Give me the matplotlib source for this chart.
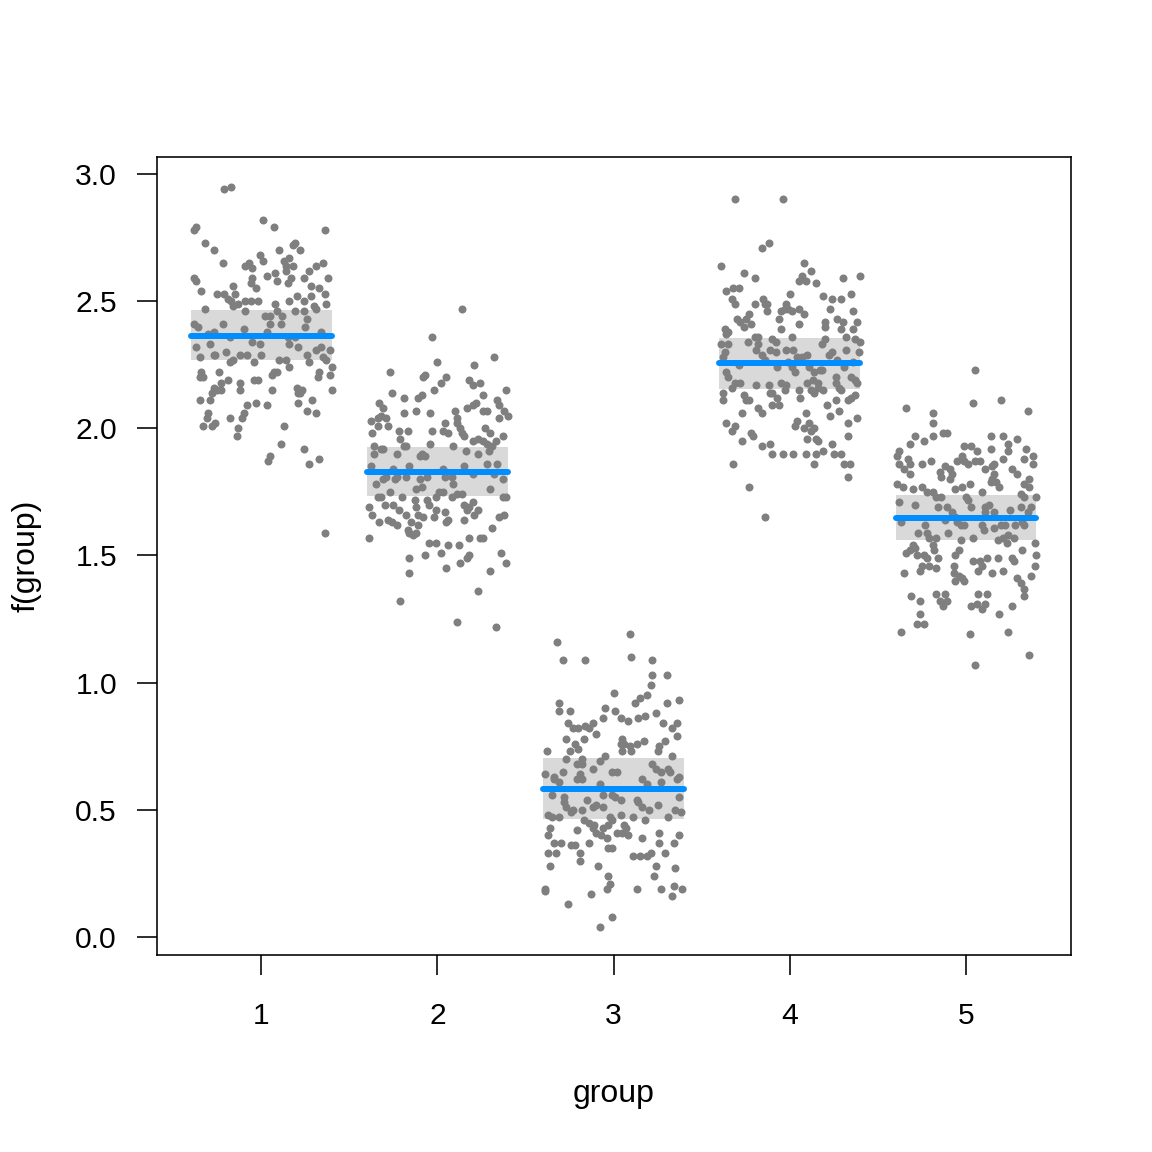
import matplotlib
matplotlib.use("Agg")
import matplotlib.pyplot as plt

plt.rcParams['font.family'] = ['Liberation Sans', 'DejaVu Sans']

groups = [1, 2, 3, 4, 5]
fit = [2.365, 1.830, 0.582, 2.256, 1.647]
fit_lo = [2.267, 1.735, 0.464, 2.153, 1.559]
fit_hi = [2.467, 1.925, 0.704, 2.354, 1.738]

# partial residuals: (jitter offset, value) per group
g1_dx = [-0.21,-0.17,0.01,0.07,-0.38,-0.37,0.36,-0.32,-0.27,0.19,0.18,0.10,0.22,-0.01,0.01,-0.22,0.13,0.16,0.14,0.18,
         -0.09,-0.07,-0.05,0.31,0.35,0.27,0.14,0.03,0.08,-0.38,-0.37,-0.05,-0.06,0.09,0.15,0.17,0.24,0.38,-0.16,0.28,
         0.33,-0.03,-0.34,-0.25,-0.21,-0.19,-0.15,0.36,-0.09,-0.06,-0.02,-0.17,-0.16,-0.13,0.16,0.20,0.24,0.28,0.30,0.31,
         0.08,0.37,-0.32,-0.09,0.19,0.24,0.02,0.05,0.09,0.12,0.26,-0.38,-0.36,-0.22,0.05,0.11,0.25,-0.10,-0.27,-0.30,
         0.34,0.03,-0.18,0.15,0.19,-0.05,-0.01,-0.37,-0.29,0.16,0.21,0.31,0.34,0.39,-0.27,-0.26,-0.20,-0.12,-0.08,-0.35,
         0.00,0.10,0.14,0.26,-0.16,0.35,0.37,0.16,0.40,0.27,-0.04,-0.18,
         -0.34,-0.35,-0.33,-0.24,-0.19,-0.23,-0.27,-0.28,-0.25,-0.23,-0.12,-0.12,-0.04,-0.02,0.07,0.06,0.09,0.06,0.20,0.21,
         0.22,0.23,0.33,0.32,0.39,0.40,-0.35,-0.29,-0.03,-0.08,0.03,0.21,0.29,0.26,0.31,-0.30,-0.31,-0.18,-0.10,-0.11,
         -0.33,-0.28,-0.26,-0.13,-0.14,0.13,0.11,0.24,0.05,0.04,0.33,0.27,0.36]
g1_y = [2.94,2.95,2.82,2.79,2.78,2.79,2.78,2.73,2.70,2.73,2.72,2.70,2.70,2.68,2.66,2.65,2.66,2.67,2.64,2.64,
        2.64,2.65,2.63,2.64,2.65,2.62,2.62,2.60,2.61,2.59,2.58,2.59,2.57,2.58,2.57,2.59,2.59,2.59,2.56,2.56,
        2.55,2.55,2.54,2.53,2.53,2.51,2.53,2.53,2.50,2.50,2.50,2.50,2.48,2.49,2.50,2.52,2.50,2.52,2.48,2.47,
        2.49,2.49,2.47,2.46,2.46,2.46,2.44,2.44,2.46,2.44,2.43,2.41,2.40,2.41,2.41,2.41,2.40,2.39,2.38,2.37,
        2.38,2.38,2.36,2.36,2.36,2.34,2.33,2.32,2.33,2.33,2.32,2.31,2.32,2.31,2.29,2.29,2.30,2.29,2.29,2.28,
        2.29,2.27,2.27,2.29,2.27,2.28,2.27,2.24,2.24,2.26,2.26,2.26,
        2.22,2.20,2.20,2.22,2.19,2.18,2.16,2.14,2.15,2.15,2.18,2.15,2.19,2.19,2.22,2.21,2.22,2.15,2.16,2.14,
        2.14,2.15,2.22,2.20,2.21,2.15,2.11,2.11,2.10,2.09,2.09,2.10,2.11,2.07,2.06,2.06,2.04,2.04,2.06,2.04,
        2.01,2.01,2.02,2.00,1.97,2.01,1.94,1.92,1.89,1.87,1.88,1.86,1.59]

g2_dx = [0.14,-0.03,0.00,0.32,-0.27,0.21,-0.07,-0.08,0.05,0.02,0.18,0.20,0.24,-0.26,-0.19,-0.11,-0.09,-0.02,0.39,0.26,
         -0.33,-0.31,-0.12,-0.04,-0.19,0.10,0.17,0.20,0.22,0.26,0.28,0.34,0.35,-0.34,-0.32,-0.29,-0.38,0.11,0.11,0.13,
         0.14,0.15,0.38,0.40,0.35,-0.34,-0.28,-0.37,0.04,0.03,0.06,-0.03,-0.22,-0.17,0.27,0.30,0.37,-0.21,-0.19,-0.18,
         -0.04,0.09,0.20,0.23,0.26,0.28,0.33,0.31,0.29,-0.36,-0.32,-0.31,-0.36,-0.23,-0.09,-0.07,-0.10,0.16,0.23,-0.38,
         -0.16,-0.25,0.28,0.34,0.03,0.15,
         -0.31,-0.29,-0.24,-0.23,-0.18,-0.10,-0.06,0.04,0.08,0.20,0.32,0.37,-0.35,-0.27,-0.12,-0.09,0.09,0.30,
         -0.34,-0.32,-0.20,-0.13,-0.06,-0.01,0.01,0.03,0.08,0.11,0.14,0.37,0.39,
         -0.39,-0.37,-0.30,-0.25,-0.22,-0.18,-0.12,-0.11,-0.08,-0.05,-0.01,-0.02,0.04,0.06,0.05,0.15,0.17,0.18,0.20,0.23,
         0.21,0.15,0.35,0.38,-0.33,-0.28,-0.26,-0.23,-0.15,-0.11,-0.17,-0.16,-0.14,-0.12,-0.39,0.31,0.18,0.24,0.26,-0.05,
         -0.01,0.06,0.12,-0.07,0.02,0.17,0.18,0.36,-0.16,0.13,0.05,0.39,-0.16,0.30,0.23,-0.21,0.11,0.33]
g2_y = [2.47,2.36,2.26,2.28,2.22,2.25,2.21,2.20,2.20,2.18,2.19,2.17,2.18,2.14,2.12,2.12,2.13,2.15,2.15,2.13,
        2.10,2.08,2.07,2.06,2.06,2.07,2.08,2.09,2.10,2.07,2.07,2.11,2.09,2.04,2.05,2.04,2.03,2.04,2.02,2.00,
        1.98,1.97,2.07,2.05,2.04,2.01,2.01,1.98,2.02,1.99,1.98,1.99,1.99,1.99,2.00,1.98,1.97,1.96,1.93,1.93,
        1.94,1.93,1.95,1.96,1.95,1.94,1.95,1.93,1.91,1.93,1.92,1.92,1.90,1.90,1.90,1.89,1.89,1.91,1.90,1.85,
        1.85,1.84,1.86,1.86,1.84,1.85,
        1.80,1.81,1.80,1.81,1.81,1.80,1.81,1.81,1.81,1.82,1.82,1.80,1.78,1.75,1.76,1.77,1.78,1.76,
        1.73,1.73,1.73,1.72,1.72,1.73,1.75,1.75,1.73,1.74,1.74,1.73,1.73,
        1.69,1.66,1.70,1.70,1.68,1.66,1.69,1.66,1.65,1.70,1.68,1.65,1.67,1.64,1.63,1.70,1.68,1.69,1.71,1.68,
        1.66,1.64,1.65,1.66,1.63,1.64,1.63,1.62,1.63,1.62,1.60,1.59,1.58,1.59,1.57,1.61,1.57,1.57,1.57,1.55,
        1.55,1.54,1.54,1.50,1.51,1.49,1.50,1.51,1.49,1.47,1.45,1.47,1.43,1.44,1.36,1.32,1.24,1.22]

g3_dx = [0.09,-0.32,-0.29,-0.16,0.10,0.22,0.22,0.30,0.21,0.00,0.12,0.15,0.19,0.30,0.37,-0.31,-0.31,-0.25,-0.05,0.01,
         0.04,0.08,0.14,0.18,0.24,-0.06,-0.26,-0.23,-0.20,-0.16,-0.14,-0.12,-0.10,0.28,0.33,0.36,0.36,-0.27,-0.17,-0.22,
         -0.20,-0.25,0.05,0.06,0.04,0.09,0.13,0.10,0.05,0.17,0.26,0.25,0.29,-0.38,-0.05,-0.27,-0.18,-0.21,-0.18,-0.08,
         0.33,-0.39,-0.34,-0.29,-0.19,-0.12,-0.01,0.02,0.22,0.24,0.27,0.31,0.32,0.37,
         -0.34,-0.31,-0.21,-0.18,-0.08,0.16,0.19,0.27,0.36,
         -0.35,-0.28,-0.15,-0.06,-0.01,0.01,0.04,0.13,0.14,0.16,0.37,
         -0.28,-0.27,-0.23,-0.24,-0.18,-0.12,-0.10,-0.06,0.20,0.25,0.35,0.38,
         -0.37,-0.35,-0.31,-0.17,-0.14,-0.11,-0.02,-0.01,0.04,0.11,0.18,0.31,
         -0.36,-0.37,-0.21,-0.12,-0.10,-0.06,-0.03,-0.07,-0.04,0.02,0.05,0.07,0.08,0.06,0.16,0.26,0.37,
         -0.34,-0.30,-0.24,-0.22,-0.14,-0.01,-0.03,0.26,0.34,
         -0.37,-0.33,-0.19,0.11,0.15,0.19,0.21,0.29,-0.19,-0.36,-0.09,0.24,0.35,-0.03,0.23,
         -0.02,-0.04,0.13,0.27,0.34,0.39,0.33,-0.39,-0.39,-0.13,-0.26,-0.01,-0.08]
g3_y = [1.19,1.16,1.09,1.09,1.10,1.09,1.03,1.03,0.99,0.96,0.92,0.94,0.95,0.92,0.93,0.92,0.89,0.89,0.90,0.89,
        0.86,0.85,0.86,0.87,0.88,0.86,0.84,0.82,0.82,0.83,0.82,0.84,0.80,0.84,0.82,0.84,0.79,0.78,0.78,0.76,
        0.74,0.73,0.78,0.76,0.76,0.75,0.76,0.73,0.73,0.77,0.75,0.73,0.77,0.73,0.71,0.70,0.70,0.68,0.68,0.69,
        0.71,0.64,0.63,0.65,0.64,0.66,0.65,0.65,0.68,0.66,0.65,0.66,0.65,0.63,
        0.62,0.61,0.62,0.62,0.60,0.62,0.60,0.61,0.62,
        0.56,0.55,0.54,0.56,0.56,0.55,0.54,0.54,0.53,0.51,0.55,
        0.53,0.51,0.50,0.49,0.50,0.51,0.52,0.51,0.50,0.52,0.50,0.49,
        0.48,0.47,0.47,0.46,0.45,0.44,0.47,0.46,0.48,0.47,0.46,0.47,
        0.43,0.40,0.42,0.43,0.41,0.43,0.44,0.40,0.39,0.41,0.41,0.43,0.40,0.44,0.39,0.41,0.40,
        0.37,0.37,0.36,0.36,0.37,0.35,0.35,0.37,0.37,
        0.33,0.33,0.33,0.32,0.32,0.32,0.33,0.33,0.30,0.28,0.28,0.28,0.27,0.24,0.24,
        0.21,0.19,0.19,0.19,0.20,0.19,0.16,0.19,0.18,0.17,0.13,0.08,0.04]

g4_dx = [-0.31,-0.04,-0.16,-0.12,-0.39,-0.26,-0.20,0.08,0.12,0.07,0.05,0.09,0.15,0.30,0.40,-0.36,-0.32,-0.29,0.00,-0.33,
         -0.31,-0.20,-0.15,-0.14,-0.13,-0.02,-0.01,0.19,0.24,0.29,0.35,0.23,-0.05,-0.03,0.01,0.05,0.08,-0.13,0.36,-0.30,
         -0.28,-0.25,-0.23,-0.22,-0.26,-0.06,0.05,0.20,0.20,0.27,0.30,0.38,-0.37,-0.35,-0.36,-0.05,0.29,0.36,-0.20,-0.18,
         0.01,0.32,-0.10,-0.08,-0.24,0.20,0.18,0.37,0.40,-0.39,-0.35,-0.18,
         -0.37,-0.19,-0.11,-0.08,-0.02,0.02,0.10,0.24,0.32,0.39,
         -0.38,-0.16,0.04,0.07,0.22,0.27,
         -0.29,-0.14,-0.07,-0.01,0.01,0.11,0.17,0.31,0.36,
         -0.36,-0.35,0.03,0.14,0.18,0.26,0.35,0.37,
         -0.31,-0.28,-0.33,-0.19,-0.12,-0.05,-0.02,0.10,0.13,0.16,0.16,0.26,0.28,0.38,
         -0.38,-0.38,-0.26,-0.25,-0.23,-0.11,-0.10,-0.03,0.05,0.06,0.12,0.14,0.19,0.29,-0.07,0.33,0.35,0.37,
         -0.27,-0.18,-0.16,-0.10,-0.06,0.09,0.21,0.26,0.23,0.28,0.38,0.33,
         -0.36,-0.33,-0.31,-0.22,-0.21,-0.27,0.04,0.03,0.08,0.11,0.12,0.14,0.10,0.15,0.16,0.33,
         -0.16,-0.11,-0.10,-0.04,0.02,0.09,0.15,0.19,0.24,0.25,0.29,
         -0.32,0.14,0.31,0.34,0.33,-0.23,-0.14]
g4_y = [2.90,2.90,2.71,2.73,2.64,2.61,2.59,2.65,2.62,2.60,2.58,2.58,2.57,2.59,2.60,2.54,2.55,2.55,2.53,2.51,
        2.49,2.49,2.51,2.49,2.49,2.49,2.47,2.52,2.51,2.51,2.53,2.47,2.46,2.47,2.46,2.47,2.45,2.46,2.46,2.43,
        2.42,2.43,2.45,2.41,2.40,2.43,2.41,2.42,2.40,2.43,2.42,2.42,2.39,2.38,2.37,2.39,2.39,2.39,2.36,2.36,
        2.36,2.36,2.35,2.34,2.34,2.35,2.33,2.35,2.34,2.33,2.33,2.33,
        2.30,2.31,2.31,2.30,2.31,2.31,2.29,2.30,2.31,2.30,
        2.28,2.29,2.28,2.28,2.29,2.27,
        2.25,2.27,2.24,2.26,2.24,2.24,2.23,2.24,2.26,
        2.22,2.20,2.22,2.22,2.23,2.20,2.20,2.19,
        2.18,2.18,2.16,2.17,2.17,2.18,2.17,2.18,2.19,2.18,2.16,2.18,2.16,2.18,
        2.14,2.11,2.13,2.11,2.11,2.14,2.14,2.15,2.15,2.12,2.15,2.14,2.15,2.15,2.12,2.11,2.12,2.13,
        2.06,2.08,2.06,2.09,2.09,2.06,2.09,2.11,2.05,2.07,2.04,2.02,
        2.02,1.99,2.01,1.98,1.97,1.95,2.03,2.01,2.00,2.02,1.99,2.00,1.96,1.96,1.95,1.97,
        1.93,1.94,1.90,1.90,1.90,1.90,1.90,1.91,1.94,1.90,1.90,
        1.86,1.86,1.86,1.86,1.81,1.77,1.65]

g5_dx = [0.05,-0.34,-0.19,0.04,0.20,0.35,-0.19,-0.29,-0.32,-0.24,-0.19,-0.13,-0.11,0.14,0.21,0.29,0.24,-0.38,-0.39,-0.38,
         -0.33,-0.32,-0.25,-0.20,-0.01,0.03,0.06,0.14,0.24,0.21,0.34,0.33,0.38,0.38,-0.05,-0.02,-0.01,0.01,0.05,0.08,
         0.11,0.15,0.16,-0.12,-0.15,-0.14,-0.09,-0.08,-0.09,-0.35,-0.32,0.16,0.15,0.14,0.17,0.26,0.29,0.36,0.33,0.36,
         -0.39,-0.36,-0.30,-0.25,-0.06,-0.02,0.02,0.19,-0.22,-0.19,-0.17,-0.14,0.00,0.01,0.09,0.31,0.33,0.40,
         -0.38,-0.29,-0.16,-0.11,0.03,0.11,0.13,0.25,0.31,0.37,
         -0.08,-0.06,0.11,0.16,0.35,
         -0.37,-0.23,-0.12,-0.05,-0.03,-0.01,0.09,0.10,0.16,0.20,0.22,0.28,0.32,0.33,
         -0.27,-0.22,-0.21,-0.17,-0.10,-0.03,0.04,0.18,0.21,0.24,0.23,0.27,0.39,
         -0.30,-0.29,-0.34,-0.32,-0.28,-0.24,-0.19,-0.18,-0.04,-0.06,-0.07,-0.16,-0.22,-0.21,-0.25,-0.26,-0.35,-0.17,
         0.04,0.08,0.09,0.12,0.07,0.18,0.15,0.21,0.26,0.27,0.32,0.40,0.39,0.37,0.29,0.31,0.33,
         -0.07,-0.04,-0.02,-0.06,-0.01,
         -0.31,-0.26,-0.17,-0.12,-0.15,-0.11,-0.13,0.07,0.12,0.06,0.11,0.03,0.09,0.33,0.26,0.19,
         -0.26,-0.28,-0.24,-0.37,0.02,0.24,0.36,0.05]
g5_y = [2.23,2.08,2.06,2.10,2.11,2.07,2.02,1.97,1.94,1.95,1.97,1.98,1.98,1.97,1.97,1.96,1.94,1.91,1.89,1.86,
        1.88,1.86,1.86,1.87,1.93,1.93,1.91,1.92,1.91,1.88,1.92,1.88,1.89,1.86,1.87,1.89,1.87,1.86,1.87,1.87,
        1.84,1.85,1.86,1.85,1.83,1.81,1.84,1.82,1.80,1.84,1.82,1.82,1.80,1.79,1.79,1.84,1.82,1.80,1.78,1.77,
        1.78,1.77,1.76,1.77,1.76,1.77,1.78,1.77,1.75,1.75,1.73,1.73,1.73,1.72,1.75,1.74,1.73,1.73,
        1.71,1.70,1.69,1.69,1.69,1.69,1.70,1.68,1.69,1.69,
        1.67,1.65,1.67,1.67,1.67,
        1.63,1.62,1.64,1.63,1.62,1.62,1.62,1.60,1.61,1.62,1.62,1.62,1.63,1.62,
        1.59,1.59,1.57,1.57,1.59,1.56,1.57,1.56,1.57,1.58,1.55,1.57,1.55,
        1.54,1.53,1.51,1.52,1.50,1.50,1.54,1.52,1.52,1.50,1.46,1.49,1.49,1.46,1.46,1.44,1.43,1.45,
        1.48,1.48,1.46,1.49,1.44,1.49,1.43,1.44,1.49,1.48,1.52,1.50,1.46,1.42,1.41,1.39,1.37,
        1.43,1.42,1.41,1.40,1.40,
        1.34,1.32,1.35,1.35,1.32,1.32,1.30,1.35,1.35,1.31,1.31,1.30,1.29,1.34,1.30,1.27,
        1.27,1.23,1.23,1.20,1.19,1.20,1.11,1.07]

dx_all = [g1_dx, g2_dx, g3_dx, g4_dx, g5_dx]
y_all = [g1_y, g2_y, g3_y, g4_y, g5_y]

x_ticks = [1, 2, 3, 4, 5]
y_ticks = [0.0, 0.5, 1.0, 1.5, 2.0, 2.5, 3.0]
y_ticklabels = ["0.0", "0.5", "1.0", "1.5", "2.0", "2.5", "3.0"]

fig = plt.figure(figsize=(8, 8), dpi=144)
ax = fig.add_axes([157/1152, 1-955/1152, 914/1152, 798/1152])

half = 0.4
for g, lo, hi in zip(groups, fit_lo, fit_hi):
    ax.fill_between([g - half, g + half], [lo, lo], [hi, hi], color="#D9D9D9", lw=0, zorder=1)

for g, dx, yv in zip(groups, dx_all, y_all):
    xs = [g + d for d in dx]
    ax.scatter(xs, yv, s=16, color="#7F7F7F", linewidths=0, zorder=2)

for g, f in zip(groups, fit):
    ax.plot([g - half, g + half], [f, f], color="#008DFF", lw=3, solid_capstyle="round", zorder=3)

ax.set_xlim(0.408, 5.596)
ax.set_ylim(-0.071, 3.067)
ax.set_xticks(x_ticks)
ax.set_xticklabels([str(t) for t in x_ticks])
ax.set_yticks(y_ticks)
ax.set_yticklabels(y_ticklabels)
ax.tick_params(axis='both', direction='out', length=10, width=0.8, labelsize=15, colors='black')
ax.tick_params(axis='x', pad=13.5)
ax.tick_params(axis='y', pad=10)
for sp in ax.spines.values():
    sp.set_linewidth(0.8)

ax.set_xlabel("group", fontsize=16, va='center')
ax.xaxis.set_label_coords(0.5, (955-1094)/798)
ax.set_ylabel("f(group)", fontsize=16, va='center')
ax.yaxis.set_label_coords((27-157)/914, 0.5)

fig.savefig("out.png", dpi=144)
